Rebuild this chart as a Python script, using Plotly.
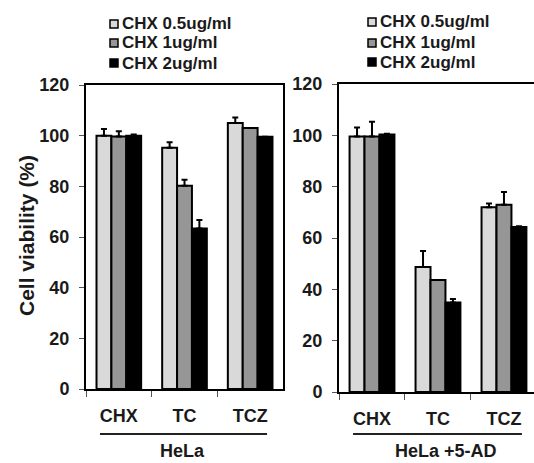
import plotly.graph_objects as go

# Treatments on the x axis and the three cycloheximide doses
categories = ["CHX", "TC", "TCZ"]
dose_names = ["CHX 0.5ug/ml", "CHX 1ug/ml", "CHX 2ug/ml"]
dose_colors = ["#d9d9d9", "#969696", "#000000"]
y_ticks = [0, 20, 40, 60, 80, 100, 120]
panel_titles = ["HeLa", "HeLa +5-AD"]

# HeLa: mean viability (%) and upper error per dose
hela_05 = [100.0, 95.2, 105.0]
hela_1 = [99.7, 80.2, 103.0]
hela_2 = [100.0, 63.4, 99.6]
hela_05_err = [2.6, 2.2, 2.2]
hela_1_err = [2.0, 2.4, 0.0]
hela_2_err = [0.5, 3.3, 0.0]

# HeLa + 5-AD: mean viability (%) and upper error per dose
ad_05 = [99.5, 48.7, 72.0]
ad_1 = [99.5, 43.6, 73.0]
ad_2 = [100.3, 34.9, 64.3]
ad_05_err = [3.6, 6.2, 1.4]
ad_1_err = [5.8, 0.0, 4.9]
ad_2_err = [0.3, 1.3, 0.3]

FONT = "Liberation Sans, Arial, sans-serif"
INK = "#1a1a1a"
W, H = 534, 463

panels = [
    ([hela_05, hela_1, hela_2], [hela_05_err, hela_1_err, hela_2_err], "x", "y"),
    ([ad_05, ad_1, ad_2], [ad_05_err, ad_1_err, ad_2_err], "x2", "y2"),
]

fig = go.Figure()
for values, errs, xa, ya in panels:
    for name, color, vals, err in zip(dose_names, dose_colors, values, errs):
        fig.add_trace(go.Bar(
            x=categories, y=vals, name=name, xaxis=xa, yaxis=ya,
            marker=dict(color=color, line=dict(color="#000000", width=2)),
            error_y=dict(type="data", array=err, arrayminus=[0] * len(err),
                         symmetric=False, color="#000000", thickness=2, width=3),
            showlegend=False,
        ))

axis_font = dict(family=FONT, size=18, color=INK, weight="bold")


def xaxis_cfg(domain, rng, anchor):
    return dict(domain=domain, range=rng, anchor=anchor, type="category",
                autorange=False, automargin=False,
                showline=True, linecolor="#000000", linewidth=2, mirror=True,
                ticks="outside", ticklen=6, tickwidth=1, tickcolor="#555555",
                tickson="boundaries", tickfont=axis_font, ticklabelstandoff=9,
                showgrid=False, zeroline=False, fixedrange=True)


def yaxis_cfg(domain, anchor, mirror):
    return dict(domain=domain, range=[0, 120], anchor=anchor,
                autorange=False, automargin=False,
                tickvals=y_ticks, showline=True, linecolor="#000000",
                linewidth=2, mirror=mirror, ticks="outside", ticklen=5,
                tickwidth=1, tickcolor="#555555", tickfont=axis_font,
                ticklabelstandoff=6, showgrid=False, zeroline=False,
                fixedrange=True)


left_x = [86 / W, 283 / W]
right_x = [339 / W, 1.0]
left_y = [(H - 389) / H, (H - 85) / H]
right_y = [(H - 392) / H, (H - 84) / H]

fig.update_layout(
    width=W, height=H,
    margin=dict(l=0, r=0, t=0, b=0, autoexpand=False),
    paper_bgcolor="white", plot_bgcolor="white",
    barmode="group", bargap=0.32, bargroupgap=0,
    xaxis=xaxis_cfg(left_x, [-0.5, 2.5], "y"),
    yaxis=yaxis_cfg(left_y, "x", True),
    xaxis2=xaxis_cfg(right_x, [-0.5, 2.455], "y2"),
    yaxis2=yaxis_cfg(right_y, "x2", False),
    font=dict(family=FONT, color=INK),
)

# y-axis title
fig.add_annotation(text="Cell viability (%)", textangle=-90,
                   x=26 / W, y=(H - 236) / H, xref="paper", yref="paper",
                   xanchor="center", yanchor="middle",
                   showarrow=False, font=dict(family=FONT, size=21, color=INK, weight="bold"))

# Cell-line labels under each panel, with an underline above them
for title, dom, x0, x1, cx in [
    (panel_titles[0], "x domain", 0.071, 0.919, 182),
    (panel_titles[1], "x2 domain", 0.072, 0.938, 446),
]:
    fig.add_shape(type="line", xref=dom, yref="paper", x0=x0, x1=x1,
                  y0=(H - 434) / H, y1=(H - 434) / H,
                  line=dict(color="#222222", width=2))
    fig.add_annotation(text=title, x=cx / W, y=(H - 451) / H,
                       xref="paper", yref="paper", showarrow=False,
                       xanchor="center", yanchor="middle",
                       font=dict(family=FONT, size=18, color=INK, weight="bold"))

# Dose keys above each panel
for sq_x, rows in [(110, [24, 43, 63]), (368, [22, 43, 62])]:
    for name, color, cy in zip(dose_names, dose_colors, rows):
        fig.add_shape(type="rect", xref="paper", yref="paper",
                      x0=sq_x / W, x1=(sq_x + 8) / W,
                      y0=(H - cy - 4) / H, y1=(H - cy + 4) / H,
                      fillcolor=color, line=dict(color="#000000", width=1.5))
        fig.add_annotation(text=name, x=(sq_x + 10) / W, y=(H - cy) / H,
                           xref="paper", yref="paper", showarrow=False,
                           xanchor="left", yanchor="middle",
                           font=dict(family=FONT, size=17, color=INK, weight="bold"))

fig.write_html("out.html")
